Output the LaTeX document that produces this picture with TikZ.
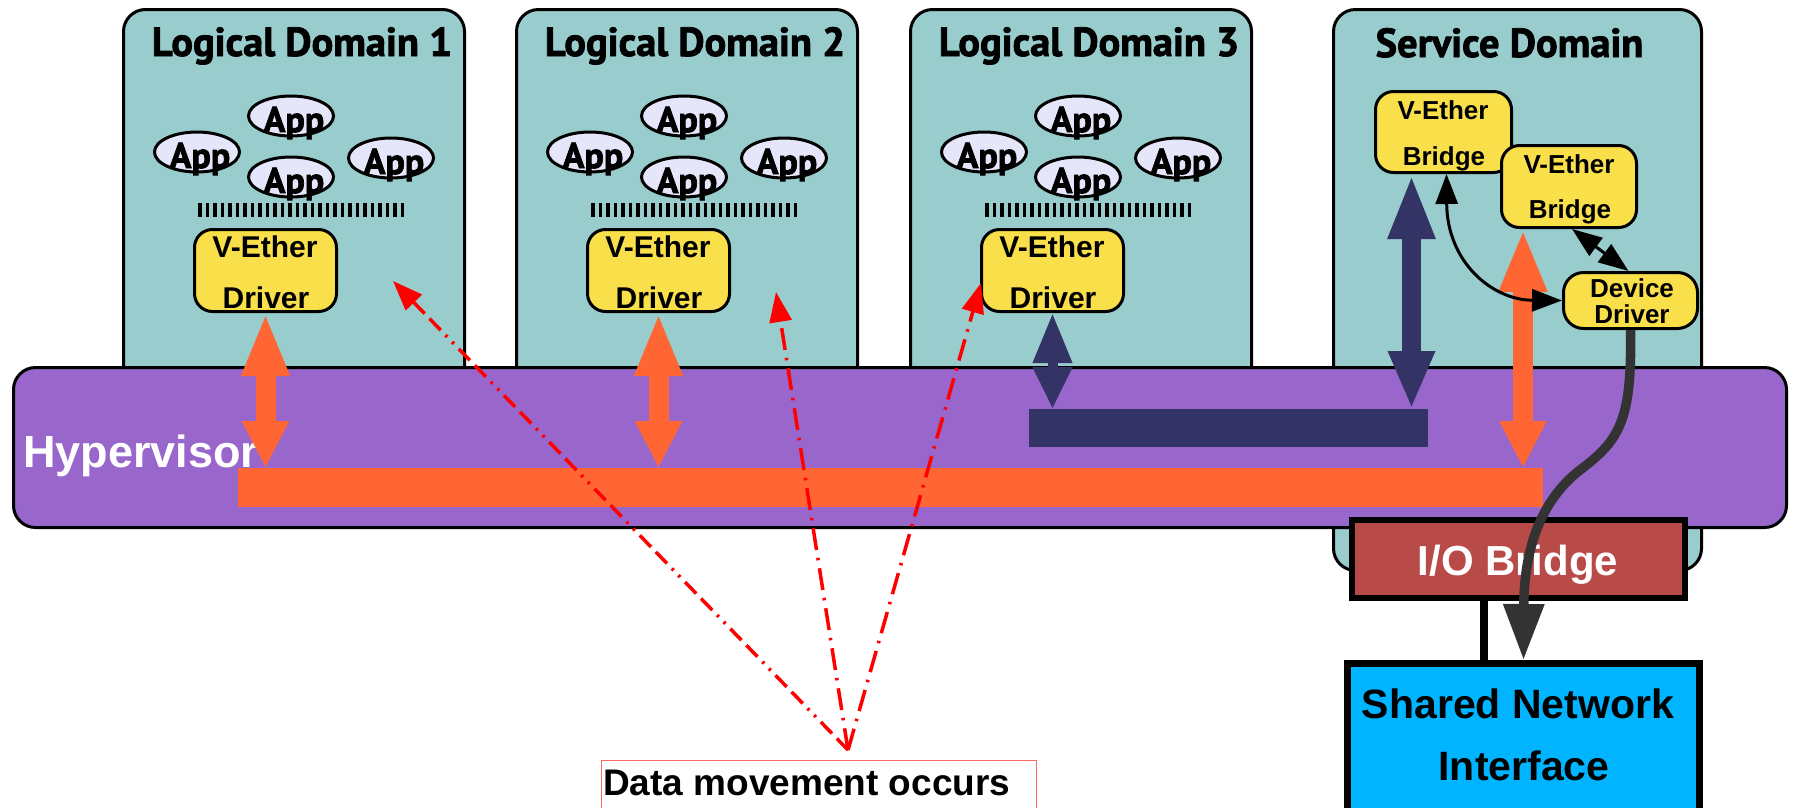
\documentclass[tikz,border=0pt]{standalone}
\usepackage{fontspec}
\setmainfont{Liberation Sans}
\newfontfamily\ttlfont{PT Sans}[BoldFeatures={FakeBold=2}]
\usetikzlibrary{arrows.meta,shapes.geometric}

\definecolor{domteal}{HTML}{99CCCC}
\definecolor{hvpurple}{HTML}{9966CC}
\definecolor{busorange}{HTML}{FF6633}
\definecolor{busnavy}{HTML}{333366}
\definecolor{boxyellow}{HTML}{F9E04B}
\definecolor{applav}{HTML}{E6E6FA}
\definecolor{iored}{HTML}{B84A48}
\definecolor{nicblue}{HTML}{00B4FF}
\definecolor{wiregray}{HTML}{333333}
\definecolor{notered}{HTML}{FF6666}

\begin{document}
\begin{tikzpicture}[x=1pt,y=-1pt,
  dombox/.style={draw=black,line width=3pt,fill=domteal,rounded corners=22pt,inner sep=0pt,anchor=north west},
  ybox/.style={draw=black,line width=3pt,fill=boxyellow,rounded corners=18pt,inner sep=0pt,anchor=north west},
  appshape/.style={ellipse,draw=black,line width=3pt,fill=applav,inner sep=0pt,minimum width=85pt,minimum height=40pt},
  apptxt/.style={anchor=base,inner sep=0pt,font=\ttlfont\bfseries\fontsize{36}{38}\selectfont},
  ttl/.style={anchor=base,inner sep=0pt,font=\ttlfont\bfseries\fontsize{40.5}{42}\selectfont},
  ylbl/.style={anchor=base,inner sep=0pt,font=\bfseries\fontsize{30}{36}\selectfont},
  slbl/.style={anchor=base,inner sep=0pt,font=\bfseries\fontsize{26}{30}\selectfont},
  ticks/.style={line width=14pt,dash pattern=on 3.5pt off 4pt},
  bar/.style={inner sep=0pt,outer sep=0pt,anchor=north west},
  oarrow/.style={draw=busorange,line width=20pt,
    {Triangle[width=44pt,length=63pt]}-{Triangle[width=44pt,length=47pt]}},
  narrow/.style={draw=busnavy,line width=19pt,
    {Triangle[width=43pt,length=65pt]}-{Triangle[width=43pt,length=58pt]}},
  thin2/.style={draw=black,line width=3pt,
    {Triangle[width=22pt,length=30pt]}-{Triangle[width=22pt,length=30pt]}},
  note/.style={red,line width=3.5pt,-{Triangle[width=22pt,length=30pt]}},
  dashdd/.style={dash pattern=on 16pt off 7pt on 16pt off 7pt on 2.5pt off 7pt on 2.5pt off 7pt},
  dashd/.style={dash pattern=on 22pt off 8pt on 2.5pt off 8pt},
]
\useasboundingbox (0,0) rectangle (1793,807);
\fill[white] (0,0) rectangle (1793,807);
\clip (0,0) rectangle (1793,807);

% ---------- logical domains ----------
\foreach \i/\dx in {1/0,2/393,3/787}{
  \begin{scope}[xshift=\dx pt]
    \node[dombox,minimum width=341pt,minimum height=420pt] (ld\i) at (122,8) {};
    \node[ttl] (ld\i t) at (302,56) {Logical Domain \i};
    \node[appshape] (ld\i a1) at (291,116) {};
    \node[apptxt] (ld\i a1t) at (294,132) {App};
    \node[appshape] (ld\i a2) at (197,152) {};
    \node[apptxt] (ld\i a2t) at (200,168) {App};
    \node[appshape] (ld\i a3) at (291,177) {};
    \node[apptxt] (ld\i a3t) at (294,193) {App};
    \node[appshape] (ld\i a4) at (391,158) {};
    \node[apptxt] (ld\i a4t) at (394,174) {App};
    \draw[ticks] (198,210) -- (407,210);
    \node[ybox,minimum width=142pt,minimum height=82pt] (drv\i) at (193,228) {};
    \node[ylbl] (drv\i a) at (265,257) {V-Ether};
    \node[ylbl] (drv\i b) at (266,308) {Driver};
  \end{scope}
}

% ---------- service domain ----------
\node[dombox,minimum width=368pt,minimum height=561pt] (sd) at (1332,8) {};
\node[ttl] (sdt) at (1509.5,57) {Service Domain};
\node[ybox,minimum width=136pt,minimum height=81pt] (br1) at (1374,90) {};
\node[slbl] (br1a) at (1443,119) {V-Ether};
\node[slbl] (br1b) at (1444,165) {Bridge};
\node[ybox,minimum width=135pt,minimum height=82pt] (br2) at (1500,144) {};
\node[slbl] (br2a) at (1569,173) {V-Ether};
\node[slbl] (br2b) at (1570,218) {Bridge};
\node[ybox,minimum width=134pt,minimum height=56pt,rounded corners=20pt] (dev) at (1562,271) {};
\node[slbl] (deva) at (1632,297) {Device};
\node[slbl] (devb) at (1632,323) {Driver};

% ---------- hypervisor ----------
\node[draw=black,line width=3pt,fill=hvpurple,rounded corners=22pt,inner sep=0pt,
      anchor=north west,minimum width=1773pt,minimum height=160pt] (hv) at (12,366) {};
\node[anchor=base west,inner sep=0pt,text=white,font=\bfseries\fontsize{45}{50}\selectfont]
      (hvlbl) at (23,467) {Hypervisor};
\node[bar,fill=busorange,minimum width=1305pt,minimum height=39pt] (bus) at (238,468) {};
\node[bar,fill=busnavy,minimum width=399pt,minimum height=38pt] (nbar) at (1029,409) {};

% ---------- virtual ethernet paths ----------
\foreach \i in {1,2}{
  \draw[oarrow] (drv\i.south) -- (drv\i.south |- bus.north);
}
\draw[draw=busnavy,line width=10pt,
      {Triangle[width=37pt,length=50pt]}-{Triangle[width=37pt,length=42pt]}]
      (drv3.south) -- (drv3.south |- nbar.north);
\draw[narrow] ([xshift=-32pt]br1.south) -- ([xshift=-32pt]br1.south |- nbar.north);
\draw[oarrow] ([xshift=-46pt]br2.south) -- ([xshift=-46pt]br2.south |- bus.north);
\draw[thin2] ([xshift=3pt]br1.south) .. controls (1447,262) and (1492,300) .. (dev.west);
\draw[thin2] ([xshift=3pt]br2.south) -- ([xshift=-2pt]dev.north);

% ---------- I/O path ----------
\node[draw=black,line width=6pt,fill=iored,inner sep=0pt,anchor=north west,
      minimum width=333pt,minimum height=78pt] (io) at (1349,517) {};
\node[anchor=base,inner sep=0pt,text=white,font=\bfseries\fontsize{42}{46}\selectfont]
      (iolbl) at (1518,575) {I/O Bridge};
\node[draw=black,line width=7pt,fill=nicblue,inner sep=0pt,anchor=north west,
      minimum width=352pt,minimum height=200pt] (sni) at (1344,660) {};
\node[anchor=base,inner sep=0pt,font=\bfseries\fontsize{41}{46}\selectfont]
      (snia) at (1518,718) {Shared Network};
\node[anchor=base,inner sep=0pt,font=\bfseries\fontsize{41}{46}\selectfont]
      (snib) at (1524,780) {Interface};
\draw[black,line width=8pt] ([xshift=-35pt]io.south) -- ([xshift=-35pt]io.south |- sni.north);
\draw[wiregray,line width=9.5pt,-{Triangle[width=39pt,length=56pt]}]
      (dev.south) .. controls (1632,420) and (1620,440) .. (1580,470)
      .. controls (1535,505) and (1524,560) .. (sni.north);

% ---------- data movement note ----------
\node[draw=notered,line width=1.2pt,inner sep=0pt,anchor=north west,
      minimum width=435pt,minimum height=100pt] (notebox) at (601,760) {};
\node[anchor=base west,inner sep=0pt,font=\bfseries\fontsize{37}{40}\selectfont]
      (notetxt) at (603,795) {Data movement occurs};
\coordinate (src) at (848,750);
\coordinate (t1) at (393,281);
\coordinate (t2) at (776,292);
\coordinate (t3) at (981,283);
\draw[note,dashdd] (src) -- (t1);
\draw[note,dashd] (src) -- (t2);
\draw[note,dashd] (src) -- (t3);
\end{tikzpicture}
\end{document}
